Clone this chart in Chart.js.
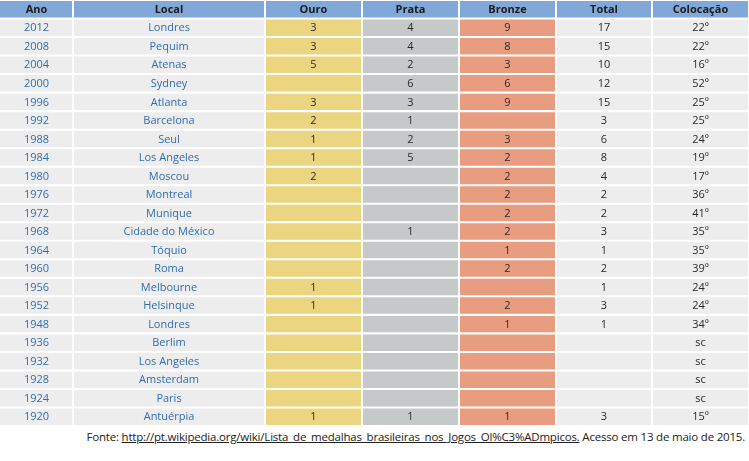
<!DOCTYPE html>
<html><head><meta charset="utf-8">
<script src="https://cdn.jsdelivr.net/npm/chart.js@4"></script>
<style>
body{margin:0;background:#fff;font-family:"Open Sans",sans-serif}
#wrap{position:relative;width:749px;height:426px}
#foot{position:absolute;top:429px;right:4px;font-size:11.5px;color:#222;letter-spacing:-0.2px}
#foot u{text-decoration:underline}
</style></head><body>
<div id="wrap"><canvas id="c"></canvas></div>
<div id="foot">Fonte: <u>http://pt.wikipedia.org/wiki/Lista_de_medalhas_brasileiras_nos_Jogos_Ol%C3%ADmpicos.</u> Acesso em 13 de maio de 2015.</div>
<script>
// ---- data ----
const headers = ["Ano", "Local", "Ouro", "Prata", "Bronze", "Total", "Colocação"];
const anos = ["2012","2008","2004","2000","1996","1992","1988","1984","1980","1976","1972","1968","1964","1960","1956","1952","1948","1936","1932","1928","1924","1920"];
const locais = ["Londres","Pequim","Atenas","Sydney","Atlanta","Barcelona","Seul","Los Angeles","Moscou","Montreal","Munique","Cidade do México","Tóquio","Roma","Melbourne","Helsinque","Londres","Berlim","Los Angeles","Amsterdam","Paris","Antuérpia"];
const ouro = [3,3,5,"",3,2,1,1,2,"","","","","",1,1,"","","","","",1];
const prata = [4,4,2,6,3,1,2,5,"","","",1,"","","","","","","","","",1];
const bronze = [9,8,3,6,9,"",3,2,2,2,2,2,1,2,"",2,1,"","","","",1];
const total = [17,15,10,12,15,3,6,8,4,2,2,3,1,2,1,3,1,"","","","",3];
const colocacao = ["22º","22º","16º","52º","25º","25º","24º","19º","17º","36º","41º","35º","35º","39º","24º","24º","34º","sc","sc","sc","sc","15º"];

// ---- layout ----
const colEdges = [0, 73, 265, 362, 459, 556, 652, 749];
const colFill = ["#ededed", "#ededed", "#ecd581", "#c5c9ca", "#e99d80", "#ededed", "#ededed"];
const headFill = "#80a8d8";
const columns = [anos, locais, ouro, prata, bronze, total, colocacao];
const rows = ["h"].concat(anos.map((a, i) => "r" + i));

const datasets = headers.map((h, c) => ({
  label: h,
  data: rows.map(() => [colEdges[c] + (c ? 1 : 0), colEdges[c + 1] - 1]),
  backgroundColor: rows.map((r, i) => i === 0 ? headFill : colFill[c]),
  borderSkipped: false,
  borderWidth: 0,
  barPercentage: 0.89,
  categoryPercentage: 1,
  grouped: false
}));

const cellText = {
  id: "cellText",
  afterDatasetsDraw(chart) {
    const { ctx, scales: { x, y } } = chart;
    ctx.save();
    ctx.textAlign = "center";
    ctx.textBaseline = "middle";
    rows.forEach((r, i) => {
      const yy = y.getPixelForValue(i);
      headers.forEach((h, c) => {
        const xx = x.getPixelForValue((colEdges[c] + colEdges[c + 1]) / 2);
        let t;
        if (i === 0) {
          t = h;
          ctx.font = "bold 11px 'Open Sans'";
          ctx.fillStyle = "#1c1c1c";
        } else {
          t = String(columns[c][i - 1]);
          ctx.font = "11px 'Open Sans'";
          ctx.fillStyle = c < 2 ? "#2f6db0" : "#2a2a2a";
        }
        ctx.fillText(t, xx, yy + 0.5);
      });
    });
    ctx.restore();
  }
};

new Chart(document.getElementById("c"), {
  type: "bar",
  data: { labels: rows, datasets },
  options: {
    indexAxis: "y",
    responsive: true,
    maintainAspectRatio: false,
    animation: false,
    layout: { padding: 0 },
    plugins: { legend: { display: false }, tooltip: { enabled: false } },
    scales: {
      x: { type: "linear", min: 0, max: 749, display: false },
      y: { display: false, offset: true }
    }
  },
  plugins: [cellText]
});
</script>
</body></html>
